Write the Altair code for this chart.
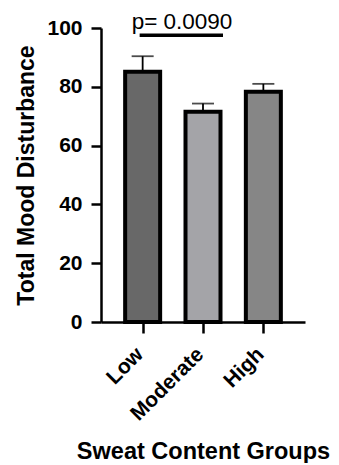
import altair as alt
import pandas as pd

groups = ["Low", "Moderate", "High"]
means = [85.1, 71.5, 78.3]
upper = [90.4, 74.3, 81.0]
fills = ["#686868", "#a4a4a8", "#868686"]

p_text = "p= 0.0090"
p_from = "Low"
p_to = "Moderate"
p_line_y = 97.5
p_text_y = 99.6

df = pd.DataFrame({"group": groups, "mean": means, "upper": upper})
ann = pd.DataFrame({"a": [p_from], "b": [p_to], "y": [p_line_y], "ty": [p_text_y], "label": [p_text]})

FONT = "Liberation Sans"

xscale = alt.Scale(type="point", domain=groups, padding=0.69)
yscale = alt.Scale(domain=[0, 100], nice=False)

x_enc = alt.X(
    "group:N", scale=xscale, sort=groups,
    axis=alt.Axis(
        title="Sweat Content Groups", labelAngle=-45, labelFontSize=21,
        labelFont=FONT, labelFontWeight="bold", labelColor="black",
        labelAlign="right", labelBaseline="middle", labelOffset=-3,
        labelPadding=18, tickSize=11, tickWidth=2.5, tickColor="black",
        domainWidth=2.5, domainColor="black",
        titleFont=FONT, titleFontSize=23.5, titleFontWeight="bold", titleColor="black",
        titleBaseline="alphabetic", titleY=136, zindex=1,
    ),
)
y_enc = alt.Y(
    "mean:Q", scale=yscale,
    axis=alt.Axis(
        title="Total Mood Disturbance", values=[0, 20, 40, 60, 80, 100],
        labelFontSize=21, labelFont=FONT, labelFontWeight="bold", labelColor="black",
        labelPadding=9, tickSize=10, tickWidth=2.5, tickColor="black",
        domainWidth=2.5, domainColor="black", grid=False,
        titleFont=FONT, titleFontSize=23, titleFontWeight="bold", titleColor="black",
        titleBaseline="alphabetic", titleX=-68, zindex=1,
    ),
)

bars = alt.Chart(df).mark_bar(size=35, stroke="black", strokeWidth=4).encode(
    x=x_enc,
    y=y_enc,
    color=alt.Color("group:N", scale=alt.Scale(domain=groups, range=fills), legend=None),
)

err = alt.Chart(df).mark_rule(color="black", strokeWidth=1.8).encode(
    x=alt.X("group:N", scale=xscale, sort=groups),
    y=alt.Y("mean:Q", scale=yscale),
    y2="upper:Q",
)

caps = alt.Chart(df).mark_tick(color="black", size=22, thickness=1.8, orient="horizontal").encode(
    x=alt.X("group:N", scale=xscale, sort=groups),
    y=alt.Y("upper:Q", scale=yscale),
)

pline = alt.Chart(ann).mark_rule(color="black", strokeWidth=3.5, xOffset=-3, x2Offset=20).encode(
    x=alt.X("a:N", scale=xscale),
    x2="b:N",
    y=alt.Y("y:Q", scale=yscale),
)

ptext = alt.Chart(ann).mark_text(
    font=FONT, fontSize=22.5, color="black", align="left", baseline="alphabetic", dx=-11
).encode(
    x=alt.X("a:N", scale=xscale),
    y=alt.Y("ty:Q", scale=yscale),
    text="label:N",
)

chart = alt.layer(bars, err, caps, pline, ptext).properties(
    width=204, height=294,
    background="white",
    autosize=alt.AutoSizeParams(type="none"),
    padding={"left": 93, "top": 20, "right": 26, "bottom": 141},
).configure_view(stroke=None)

chart.save("out.html", embed_options={"renderer": "svg", "actions": False})
